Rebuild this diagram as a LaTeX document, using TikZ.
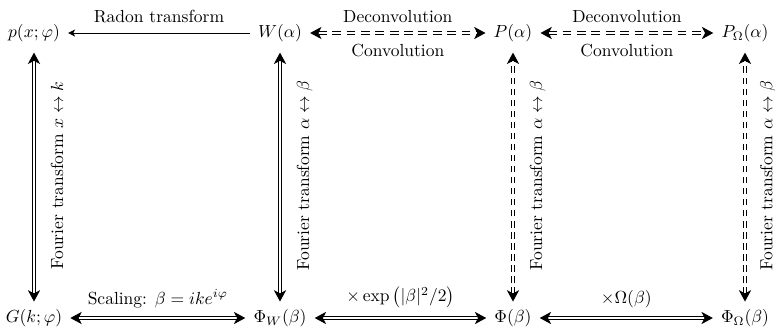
\documentclass[tikz,border=0pt]{standalone}
\usetikzlibrary{arrows.meta}
\begin{document}
\begin{tikzpicture}[x=0.5714pt, y=-0.5714pt,
  obj/.style={inner xsep=4.5pt, inner ysep=4.2pt, text height=7.5pt, text depth=2.5pt},
  dbl/.style={double, double distance=1.6pt, line width=0.6pt, {Stealth[length=6.5pt,width=7pt,inset=1.8pt]}-{Stealth[length=6.5pt,width=7pt,inset=1.8pt]}},
  hdsh/.style={dbl, dash pattern=on 5pt off 3.2pt},
  vdsh/.style={dbl, dash pattern=on 3.8pt off 2.5pt},
  vert/.style={shorten >=1.8pt},
  sgl/.style={line width=0.5pt, -{Stealth[length=4pt,width=4pt,inset=1pt]}},
  vlab/.style={midway, rotate=90, anchor=north, inner sep=9.3pt},
  alab/.style={midway, anchor=south, inner sep=0pt, yshift=5.5pt},
  blab/.style={midway, anchor=north, inner sep=0pt, yshift=-6pt},
]
\useasboundingbox (0,0) rectangle (775,329);
\node[obj] (p)  at (34,33)  {$p(x;\varphi)$};
\node[obj] (W)  at (280,33) {$W(\alpha)$};
\node[obj] (P)  at (513,33) {$P(\alpha)$};
\node[obj] (PO) at (745,33) {$P_\Omega(\alpha)$};
\node[obj] (G)  at (34,318) {$G(k;\varphi)$};
\node[obj] (FW) at (280,318) {$\Phi_W(\beta)$};
\node[obj] (F)  at (513,318) {$\Phi(\beta)$};
\node[obj] (FO) at (745,318) {$\Phi_\Omega(\beta)$};

\draw[sgl] (W) -- (p) node[alab] {Radon transform};
\draw[hdsh] (W) -- (P) node[alab] {Deconvolution} node[blab] {Convolution};
\draw[hdsh] (P) -- (PO) node[alab] {Deconvolution} node[blab] {Convolution};

\draw[dbl] (G) -- (FW) node[alab] {Scaling: $\beta = ike^{i\varphi}$};
\draw[dbl] (FW) -- (F) node[alab] {$\times\exp\left(|\beta|^2/2\right)$};
\draw[dbl] (F) -- (FO) node[alab] {$\times\Omega(\beta)$};

\draw[dbl, vert] (G) -- (p) node[vlab] {Fourier transform $x\leftrightarrow k$};
\draw[dbl, vert] (FW) -- (W) node[vlab] {Fourier transform $\alpha\leftrightarrow\beta$};
\draw[vdsh, vert] (F) -- (P) node[vlab] {Fourier transform $\alpha\leftrightarrow\beta$};
\draw[vdsh, vert] (FO) -- (PO) node[vlab, inner sep=8.3pt] {Fourier transform $\alpha\leftrightarrow\beta$};
\end{tikzpicture}
\end{document}
